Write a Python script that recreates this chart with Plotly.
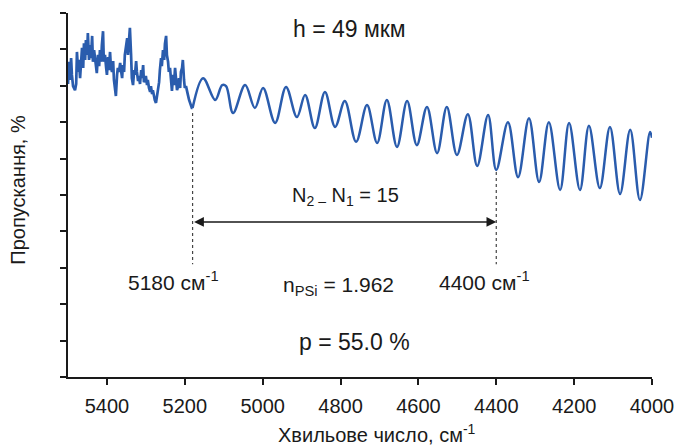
import plotly.graph_objects as go

# Noisy high-frequency part of the spectrum (cm^-1, %)
noisy_wavenumber = [
    5500, 5497, 5495, 5492, 5490, 5487, 5482, 5479, 5477, 5474, 5472, 5469,
    5464, 5461, 5459, 5456, 5454, 5451, 5449, 5446, 5443, 5441, 5438, 5436,
    5433, 5431, 5428, 5426, 5423, 5420, 5418, 5415, 5413, 5410, 5408, 5405,
    5402, 5400, 5397, 5395, 5392, 5390, 5387, 5384, 5382, 5379, 5377, 5374,
    5372, 5369, 5366, 5364, 5361, 5359, 5356, 5354, 5351, 5348, 5346, 5343,
    5341, 5338, 5336, 5333, 5330, 5328, 5325, 5323, 5320, 5318, 5315, 5312,
    5310, 5307, 5305, 5302, 5300, 5297, 5295, 5292, 5289, 5287, 5284, 5282,
    5279, 5277, 5274, 5271, 5269, 5266, 5264, 5261, 5259, 5256, 5253, 5251,
    5248, 5246, 5243, 5241, 5238, 5235, 5233, 5230, 5228, 5225, 5223, 5220,
    5217, 5215, 5212, 5210, 5207, 5205, 5202, 5200, 5197, 5194, 5192, 5189,
    5187, 5184, 5182, 5180,
]
noisy_transmission = [
    80.5, 86.6, 81.6, 87.6, 83.0, 79.9, 78.8, 80.5, 89.3, 83.8, 87.1, 82.1,
    90.4, 84.9, 91.7, 87.1, 92.6, 88.5, 94.5, 87.1, 91.2, 87.6, 93.7, 86.6,
    89.8, 88.2, 84.9, 83.5, 88.5, 85.4, 89.8, 86.6, 91.2, 95.0, 86.6, 88.5,
    84.9, 83.0, 87.9, 84.3, 89.3, 85.4, 83.8, 86.8, 81.6, 78.8, 77.2, 83.0,
    84.9, 83.8, 86.3, 84.3, 82.1, 85.7, 83.8, 88.5, 91.5, 93.1, 88.5, 95.3,
    95.9, 88.5, 82.1, 80.2, 84.3, 83.0, 86.8, 83.8, 81.3, 82.7, 80.5, 84.3,
    82.1, 85.7, 81.0, 81.6, 82.7, 80.2, 81.6, 79.4, 78.3, 79.9, 77.7, 78.8,
    76.9, 76.1, 75.3, 77.2, 78.8, 81.0, 84.3, 87.6, 85.4, 89.8, 87.1, 91.5,
    93.7, 88.5, 86.6, 83.8, 84.9, 81.6, 78.6, 83.0, 80.2, 84.9, 81.0, 78.8,
    79.9, 82.1, 79.4, 83.8, 84.9, 87.1, 81.6, 79.4, 79.9, 78.8, 77.5, 76.1,
    75.3, 74.4, 73.9, 73.9,
]

# Interference fringes: successive maxima and minima (cm^-1, %)
fringe_wavenumber = [
    5180, 5153, 5122, 5104, 5094, 5076, 5045, 5020, 4999, 4968, 4940, 4912,
    4891, 4866, 4840, 4814, 4789, 4760, 4732, 4706, 4681, 4655, 4629, 4604,
    4578, 4552, 4527, 4501, 4473, 4449, 4421, 4400, 4370, 4344, 4316, 4290,
    4265, 4236, 4213, 4185, 4162, 4134, 4108, 4082, 4056, 4031, 4005, 4000,
]
fringe_transmission = [
    73.9, 82.1, 76.1, 80.2, 79.9, 72.5, 80.2, 73.9, 79.4, 69.8, 79.7, 71.4,
    77.5, 68.4, 78.3, 68.7, 75.8, 64.6, 74.7, 64.3, 76.1, 63.2, 75.8, 63.7,
    74.2, 61.5, 74.2, 61.0, 72.2, 58.0, 72.0, 56.9, 70.0, 54.9, 71.1, 53.6,
    70.0, 51.4, 69.8, 51.4, 69.0, 51.9, 68.7, 50.3, 67.9, 48.6, 67.3, 65.7,
]

# Fringe minima used for the thickness estimate
marker_wavenumber = [5180, 4400]
marker_top = [72.5, 56.3]
marker_bottom = [31.0, 31.0]
arrow_level = 42.6

x_ticks = [5400, 5200, 5000, 4800, 4600, 4400, 4200, 4000]
y_ticks = [0, 10, 20, 30, 40, 50, 60, 70, 80, 90, 100]

LINE_BLUE = "#2a5cad"
INK = "#1a1a1a"
FONT = "Liberation Sans, Arial, sans-serif"

fig = go.Figure()

fig.add_trace(go.Scatter(
    x=noisy_wavenumber, y=noisy_transmission, mode="lines",
    line=dict(color=LINE_BLUE, width=2.7), hoverinfo="skip",
))
fig.add_trace(go.Scatter(
    x=fringe_wavenumber, y=fringe_transmission, mode="lines",
    line=dict(color=LINE_BLUE, width=2.5, shape="spline", smoothing=1.0),
    hoverinfo="skip",
))

for xm, yt, yb in zip(marker_wavenumber, marker_top, marker_bottom):
    fig.add_trace(go.Scatter(
        x=[xm, xm], y=[yt, yb], mode="lines",
        line=dict(color="#444444", width=1.2, dash="dot"), hoverinfo="skip",
    ))

# Double-headed arrow between the two marked minima
fig.add_annotation(
    x=marker_wavenumber[1], y=arrow_level,
    ax=marker_wavenumber[0], ay=arrow_level,
    xref="x", yref="y", axref="x", ayref="y",
    text="", showarrow=True, arrowside="end+start",
    arrowhead=2, arrowsize=1.4, arrowwidth=1.4, arrowcolor=INK,
)

labels = [
    (4776, 95.6, "h = 49 мкм", 23),
    (4786, 49.5, "N<sub>2 –</sub> N<sub>1</sub> = 15", 20),
    (5230, 26.4, "5180 см<sup>-1</sup>", 21),
    (4431, 26.4, "4400 см<sup>-1</sup>", 21),
    (4806, 25.0, "n<sub>PSi</sub> = 1.962", 21),
    (4763, 9.6, "p = 55.0 %", 23),
]
for lx, ly, lt, ls in labels:
    fig.add_annotation(
        x=lx, y=ly, xref="x", yref="y", text=lt, showarrow=False,
        font=dict(family=FONT, size=ls, color=INK),
        xanchor="center", yanchor="middle",
    )

# Axis titles, placed relative to the plotting area
fig.add_annotation(
    x=0.529, y=-0.154, xref="paper", yref="paper",
    text="Хвильове число, см<sup>-1</sup>", showarrow=False,
    font=dict(family=FONT, size=20, color=INK),
    xanchor="center", yanchor="middle",
)
fig.add_annotation(
    x=-0.086, y=0.514, xref="paper", yref="paper",
    text="Пропускання, %", showarrow=False, textangle=-90,
    font=dict(family=FONT, size=20, color=INK),
    xanchor="center", yanchor="middle",
)

fig.update_xaxes(
    range=[5500, 4000], tickvals=x_ticks, automargin=False,
    ticks="outside", ticklen=6, tickwidth=1.5, tickcolor=INK,
    showline=True, linewidth=1.5, linecolor=INK, showgrid=False, zeroline=False,
    tickfont=dict(family=FONT, size=20, color=INK), ticklabelstandoff=4,
)
fig.update_yaxes(
    range=[0, 100], tickvals=y_ticks, showticklabels=False, automargin=False,
    ticks="outside", ticklen=6, tickwidth=1.5, tickcolor=INK,
    showline=True, linewidth=1.5, linecolor=INK, showgrid=False, zeroline=False,
)

fig.update_layout(
    width=677, height=448,
    margin=dict(l=68, r=25, t=13, b=71),
    paper_bgcolor="white", plot_bgcolor="white",
    showlegend=False,
)

fig.write_html("out.html")
